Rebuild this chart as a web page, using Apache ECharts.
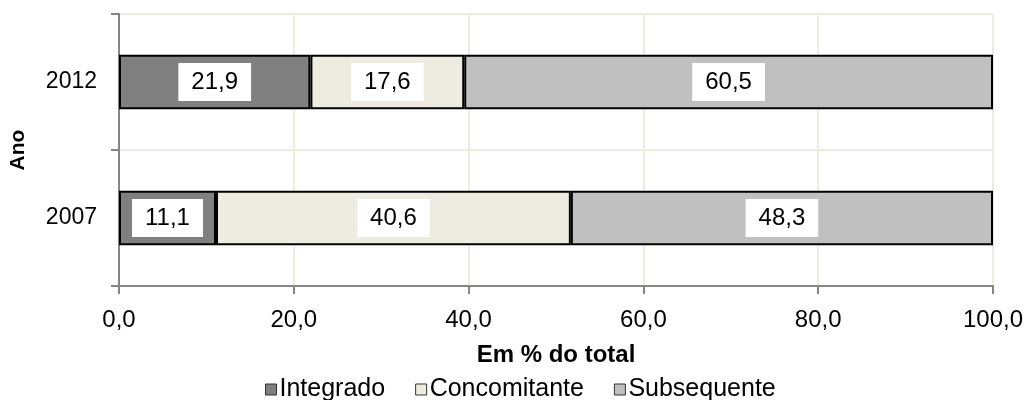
<!DOCTYPE html>
<html>
<head>
<meta charset="utf-8">
<script src="https://cdn.jsdelivr.net/npm/echarts@6/dist/echarts.min.js"></script>
<style>
  html, body { margin: 0; padding: 0; background: #fff; }
  #chart { width: 1028px; height: 400px; }
</style>
</head>
<body>
<div id="chart"></div>
<script>
// Distribution of enrolments by form of offer, in % of total
const years = ['2007', '2012'];
const integrado = [11.1, 21.9];
const concomitante = [40.6, 17.6];
const subsequente = [48.3, 60.5];
const seriesNames = ['Integrado', 'Concomitante', 'Subsequente'];
const seriesColors = ['#808080', '#EEECE1', '#C0C0C0'];

const fmt = v => v.toFixed(1).replace('.', ',');
const font = 'Liberation Sans, Arial, sans-serif';

const chart = echarts.init(document.getElementById('chart'), null, { renderer: 'canvas' });

const makeSeries = (name, data, color) => ({
  name: name,
  type: 'bar',
  stack: 'total',
  data: data,
  barWidth: '40%',
  itemStyle: { color: color, borderColor: '#000', borderWidth: 2 },
  label: {
    show: true,
    position: 'inside',
    formatter: p => fmt(p.value),
    color: '#000',
    fontFamily: font,
    fontSize: 24,
    lineHeight: 24,
    backgroundColor: '#fff',
    padding: [7, 13, 7, 13]
  }
});

chart.setOption({
  animation: false,
  grid: { left: 115, right: 35, top: 14, bottom: 114, containLabel: false },
  legend: {
    top: 372,
    left: 260,
    itemWidth: 11,
    itemHeight: 11,
    itemGap: 30,
    icon: 'rect',
    textStyle: { fontFamily: font, fontSize: 25, color: '#000', padding: [0, 0, 0, -2] },
    itemStyle: { borderColor: '#333', borderWidth: 1 },
    data: seriesNames
  },
  xAxis: {
    type: 'value',
    min: 0,
    max: 100,
    interval: 20,
    name: 'Em % do total',
    nameLocation: 'middle',
    nameGap: 57,
    nameTextStyle: { fontFamily: font, fontSize: 24, fontWeight: 'bold', color: '#000' },
    axisLine: { show: true, lineStyle: { color: '#868686', width: 2 } },
    axisTick: { show: true, length: 8, lineStyle: { color: '#868686', width: 2 } },
    axisLabel: { formatter: v => fmt(v), fontFamily: font, fontSize: 24, color: '#000', margin: 22 },
    splitLine: { show: true, lineStyle: { color: '#EEECE1', width: 2 } }
  },
  yAxis: {
    type: 'category',
    data: years,
    name: 'Ano',
    nameLocation: 'middle',
    nameGap: 90,
    nameTextStyle: { fontFamily: font, fontSize: 21, fontWeight: 'bold', color: '#000' },
    axisLine: { show: true, lineStyle: { color: '#868686', width: 2 } },
    axisTick: { show: true, length: 8, lineStyle: { color: '#868686', width: 2 } },
    axisLabel: { fontFamily: font, fontSize: 23, color: '#000', margin: 22 },
    splitLine: { show: true, lineStyle: { color: '#EEECE1', width: 2 } }
  },
  series: [
    makeSeries(seriesNames[0], integrado, seriesColors[0]),
    makeSeries(seriesNames[1], concomitante, seriesColors[1]),
    makeSeries(seriesNames[2], subsequente, seriesColors[2])
  ]
});
</script>
</body>
</html>
